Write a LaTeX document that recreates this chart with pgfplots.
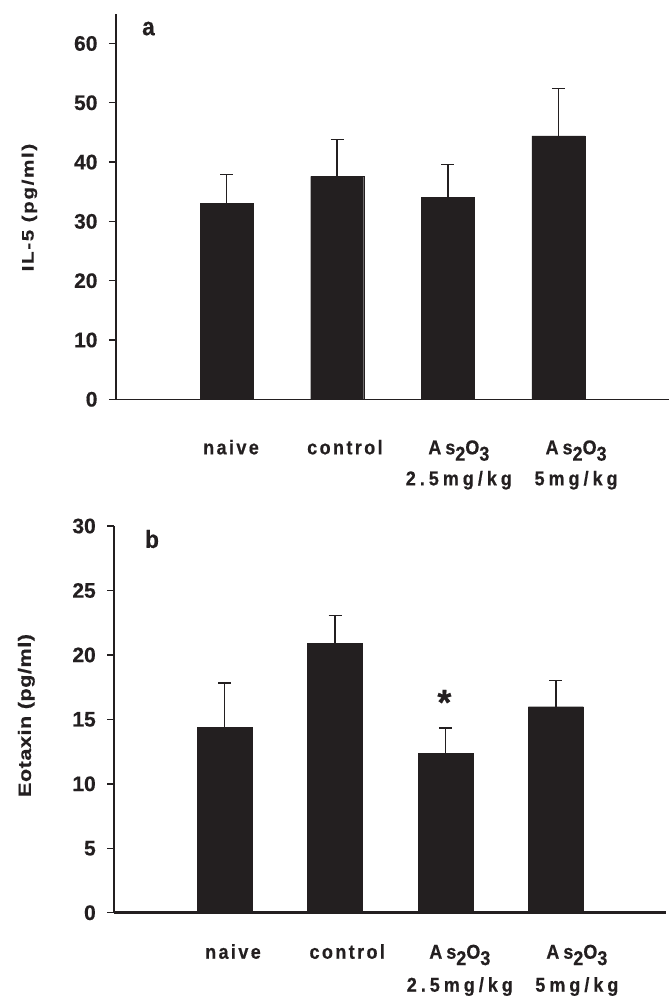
\documentclass[border=0pt]{standalone}
\usepackage{fontspec}
\setmainfont{Liberation Sans}
\newfontfamily\tickfam{Liberation Sans}[UprightFont={* Bold}, FakeBold=0.5]
\newfontfamily\catfam{Liberation Sans}[UprightFont={* Bold}, FakeStretch=0.9, LetterSpace=12, FakeBold=0.5]
\newfontfamily\asfam{Liberation Sans}[UprightFont={* Bold}, FakeStretch=0.9, LetterSpace=20, FakeBold=0.5]
\newfontfamily\ylabA{Liberation Sans}[UprightFont={* Bold}, FakeStretch=1.25, LetterSpace=10, FakeBold=0.5]
\newfontfamily\ylabB{Liberation Sans}[UprightFont={* Bold}, FakeStretch=1.2, LetterSpace=3, FakeBold=0.5]
\newfontfamily\letfam{Liberation Sans}[UprightFont={* Bold}, FakeStretch=0.9, FakeBold=0.5]
\usepackage{pgfplots}
\pgfplotsset{compat=1.18}
\definecolor{barc}{RGB}{35,31,32}
\newcommand\sub[1]{\raisebox{-0.6ex}{#1}}
\newcommand\catlab[1]{\begin{tabular}[t]{@{}c@{}}#1\end{tabular}}
\newcommand\aslab[1]{{\asfam\begin{tabular}[t]{@{}c@{}}As\sub{2}O\sub{3}\\#1\end{tabular}}}
\pgfplotsset{
  panel/.style={
    scale only axis, anchor=south west,
    xmin=0, xmax=5, ymin=0,
    axis x line*=bottom, axis y line*=left,
    axis line style={-, draw=barc},
    y axis line style={line width=2.4pt},
    ybar, bar width=#1,
    xticklabels={\catlab{naive},\catlab{control},\aslab{2.5mg/kg},\aslab{5mg/kg}},
    xtick style={draw=none},
    ytick style={line width=1.4pt, draw=barc},
    tick align=outside, major tick length=7pt,
    /pgf/number format/assume math mode=true,
    yticklabel style={font=\tickfam\fontsize{21}{24}\selectfont, anchor=east, text=barc, xshift=-8pt},
    xticklabel style={anchor=base, text=barc},
    every axis y label/.style={rotate=90, anchor=base, text=barc},
    clip=false,
  },
  barplot/.style={fill=barc, draw=barc, line width=0.4pt,
    error bars/.cd, y dir=plus, y explicit,
    error bar style={line width=1.5pt, draw=barc},
    error mark options={rotate=90, mark size=6.5pt, line width=1.5pt, draw=barc}},
}
\begin{document}
\begin{tikzpicture}
\useasboundingbox (0pt,0pt) rectangle (669pt,-996pt);
% Panel a
\begin{axis}[panel=53pt,
  at={(116pt,-399.3pt)}, width=553pt, height=385.5pt,
  ymax=65, ytick={0,10,...,60},
  xtick={1.04,2.07,3.10,4.16},
  x axis line style={line width=1.6pt},
  xticklabel style={font=\catfam\fontsize{20}{31}\selectfont, yshift=-48pt},
  ylabel={\ylabA\fontsize{16.5}{20}\selectfont IL-5 (pg/ml)},
  every axis y label/.append style={at={(axis description cs:-0.149,0.4975)}},
]
\addplot[barplot] coordinates {
  (1,33.0) +- (0,4.9)
  (2,37.6) +- (0,6.2)
  (3,34.0) +- (0,5.6)
  (4,44.4) +- (0,8.0)
};
\node[anchor=base west, inner sep=0pt, text=barc, font=\letfam\fontsize{25}{28}\selectfont] at (axis cs:0.235,61.4) {a};
\end{axis}
% Panel b
\begin{axis}[panel=55pt,
  at={(114.3pt,-912.7pt)}, width=552pt, height=386.7pt,
  ymax=30, ytick={0,5,...,30},
  xtick={1.075,2.11,3.13,4.19},
  x axis line style={line width=2.8pt},
  xticklabel style={font=\catfam\fontsize{20}{33}\selectfont, yshift=-39pt},
  ylabel={\ylabB\fontsize{18}{22}\selectfont Eotaxin (pg/ml)},
  every axis y label/.append style={at={(axis description cs:-0.151,0.51)}},
]
\addplot[barplot] coordinates {
  (1,14.38) +- (0,3.46)
  (2,20.87) +- (0,2.20)
  (3,12.36) +- (0,1.97)
  (4,15.98) +- (0,2.02)
};
\node[anchor=north, inner sep=0pt, text=barc, font=\tickfam\fontsize{36}{40}\selectfont] at (axis cs:2.99,17.3) {*};
\node[anchor=base west, inner sep=0pt, text=barc, font=\letfam\fontsize{25}{28}\selectfont] at (axis cs:0.278,28.3) {b};
\end{axis}
\end{tikzpicture}
\end{document}
